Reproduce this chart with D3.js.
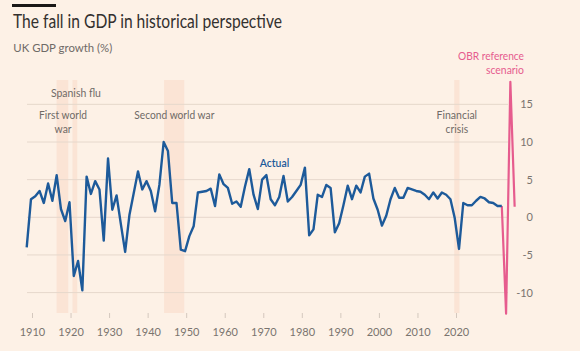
<!DOCTYPE html>
<html>
<head>
<meta charset="utf-8">
<script src="https://cdn.jsdelivr.net/npm/d3@7"></script>
<style>
  html, body { margin: 0; padding: 0; background: #fdf1e6; }
  svg { display: block; }
  text { font-family: Lato, "Open Sans", sans-serif; }
</style>
</head>
<body>
<svg id="chart" width="580" height="351"></svg>
<script>
// ---- data ----
const years = d3.range(1908, 2020);
const growth = [
  -4.0, 2.4, 2.8, 3.5, 1.9, 4.5, 2.2, 5.6, 1.1, -0.5,   // 1908-1917
   2.0, -7.8, -5.8, -9.7, 5.4, 3.1, 4.8, 3.7, -3.1, 7.8, // 1918-1927
   1.0, 2.9, -0.9, -4.6, 0.3, 3.2, 6.1, 3.7, 4.8, 3.5,  // 1928-1937
   0.8, 4.3, 10.0, 8.8, 1.9, 1.9, -4.3, -4.5, -2.5, -1.2, // 1938-1947
   3.3, 3.4, 3.5, 3.8, 1.5, 5.7, 4.4, 3.9, 1.8, 2.1,    // 1948-1957
   1.4, 4.1, 6.4, 3.0, 1.1, 5.0, 5.6, 2.4, 1.6, 2.7,    // 1958-1967
   5.5, 2.1, 2.7, 3.5, 4.3, 6.6, -2.4, -1.6, 3.0, 2.7,  // 1968-1977
   4.3, 3.9, -2.0, -0.8, 1.6, 4.2, 2.4, 4.2, 3.3, 5.4,  // 1978-1987
   5.8, 2.5, 1.0, -1.1, 0.2, 2.4, 3.9, 2.6, 2.6, 3.9,   // 1988-1997
   3.7, 3.5, 3.4, 3.0, 2.4, 3.3, 2.5, 3.3, 3.0, 2.4,    // 1998-2007
  -0.1, -4.2, 1.9, 1.6, 1.6, 2.2, 2.7, 2.5, 2.0, 1.9,   // 2008-2017
   1.5, 1.5                                              // 2018-2019
];
const obrYears = [2019, 2020, 2021, 2022];
const obrGrowth = [1.5, -12.8, 18.0, 1.4];

const bandNames = ["First world war", "Spanish flu", "Second world war", "Financial crisis"];
const bandStart = [1915.0, 1918.7, 1940.1, 2007.9];
const bandEnd   = [1917.7, 1919.8, 1944.8, 2009.1];

const yTicks = [-10, -5, 0, 5, 10, 15];
const xTicks = [1910, 1920, 1930, 1940, 1950, 1960, 1970, 1980, 1990, 2000, 2010, 2020];

const titleText = "The fall in GDP in historical perspective";
const subtitleText = "UK GDP growth (%)";

// ---- drawing ----
const svg = d3.select("#chart");
svg.append("rect").attr("width", 580).attr("height", 351).attr("fill", "#fdf1e6");

const x = d3.scaleLinear().domain([1908, 2019]).range([26.7, 501.8]);
const xAxisScale = d3.scaleLinear().domain([1910, 2020]).range([32, 456]);
const y = d3.scaleLinear().domain([-10, 15]).range([292.6, 104.35]);

function addText(g, tx, ty, str, o) {
  const t = g.append("text")
    .attr("x", tx).attr("y", ty)
    .attr("text-anchor", o.anchor || "start")
    .attr("font-size", o.size)
    .attr("fill", o.fill)
    .attr("font-weight", o.weight || 400)
    .text(str);
  if (o.width) t.attr("textLength", o.width).attr("lengthAdjust", "spacingAndGlyphs");
  return t;
}

// header
svg.append("rect").attr("x", 12).attr("y", 4).attr("width", 44).attr("height", 3).attr("fill", "#1a1817");
addText(svg, 13, 28.3, titleText, {size: 18.5, fill: "#33302e", width: 269});
addText(svg, 13.3, 52.3, subtitleText, {size: 12, fill: "#6f6a66", width: 99});

// bands
const bands = bandNames.map((n, i) => ({name: n, s: bandStart[i], e: bandEnd[i]}));
svg.append("g").selectAll("rect").data(bands).join("rect")
  .attr("x", d => x(d.s))
  .attr("width", d => x(d.e) - x(d.s))
  .attr("y", 80).attr("height", 233)
  .attr("fill", "#f9d9c6")
  .attr("opacity", 0.55);

// gridlines
svg.append("g").selectAll("line").data(yTicks).join("line")
  .attr("x1", 27).attr("x2", 508)
  .attr("y1", d => y(d)).attr("y2", d => y(d))
  .attr("stroke", "#e6d8cc").attr("stroke-width", 1);

// y labels
svg.append("g").selectAll("text").data(yTicks).join("text")
  .attr("x", 533).attr("y", d => y(d) + 4)
  .attr("text-anchor", "end")
  .attr("font-size", 11)
  .attr("fill", "#7a746f")
  .text(d => d);

// x axis
const xa = svg.append("g").attr("transform", "translate(0,313)")
  .call(d3.axisBottom(xAxisScale).tickValues(xTicks).tickFormat(d3.format("d")).tickSize(5).tickPadding(10));
xa.select(".domain").remove();
xa.selectAll(".tick line").attr("stroke", "#d4c8be");
xa.selectAll(".tick text").attr("fill", "#7a746f").attr("font-size", 11)
  .attr("font-family", 'Lato, "Open Sans", sans-serif');

// annotations
const annG = svg.append("g");
const annFill = "#6f6a66";
addText(annG, x(1919.5), 96.5, "Spanish flu", {size: 11, fill: annFill, anchor: "middle", width: 50});
addText(annG, x(1916.5), 119, "First world", {size: 11, fill: annFill, anchor: "middle", width: 48});
addText(annG, x(1916.5), 133.3, "war", {size: 11, fill: annFill, anchor: "middle", width: 17});
addText(annG, x(1942.5), 119, "Second world war", {size: 11, fill: annFill, anchor: "middle", width: 80});
addText(annG, x(2008.5), 119.3, "Financial", {size: 11, fill: annFill, anchor: "middle", width: 40.5});
addText(annG, x(2008.5), 133.3, "crisis", {size: 11, fill: annFill, anchor: "middle", width: 22.5});
addText(annG, x(1965.9), 166.7, "Actual", {size: 11, fill: "#1d5a9a", anchor: "middle", width: 29.5, weight: 600});
addText(annG, 524, 60, "OBR reference", {size: 11, fill: "#e65c8e", anchor: "end", width: 66});
addText(annG, 524, 74, "scenario", {size: 11, fill: "#e65c8e", anchor: "end", width: 38});

// lines
const line = d3.line().x(d => x(d[0])).y(d => y(d[1]));
svg.append("path")
  .datum(obrYears.map((yr, i) => [yr, obrGrowth[i]]))
  .attr("d", line)
  .attr("fill", "none").attr("stroke", "#e65c8e").attr("stroke-width", 2.2)
  .attr("stroke-linejoin", "round");
svg.append("path")
  .datum(years.map((yr, i) => [yr, growth[i]]))
  .attr("d", line)
  .attr("fill", "none").attr("stroke", "#1d5a9a").attr("stroke-width", 2.4)
  .attr("stroke-linejoin", "round");
</script>
</body>
</html>
